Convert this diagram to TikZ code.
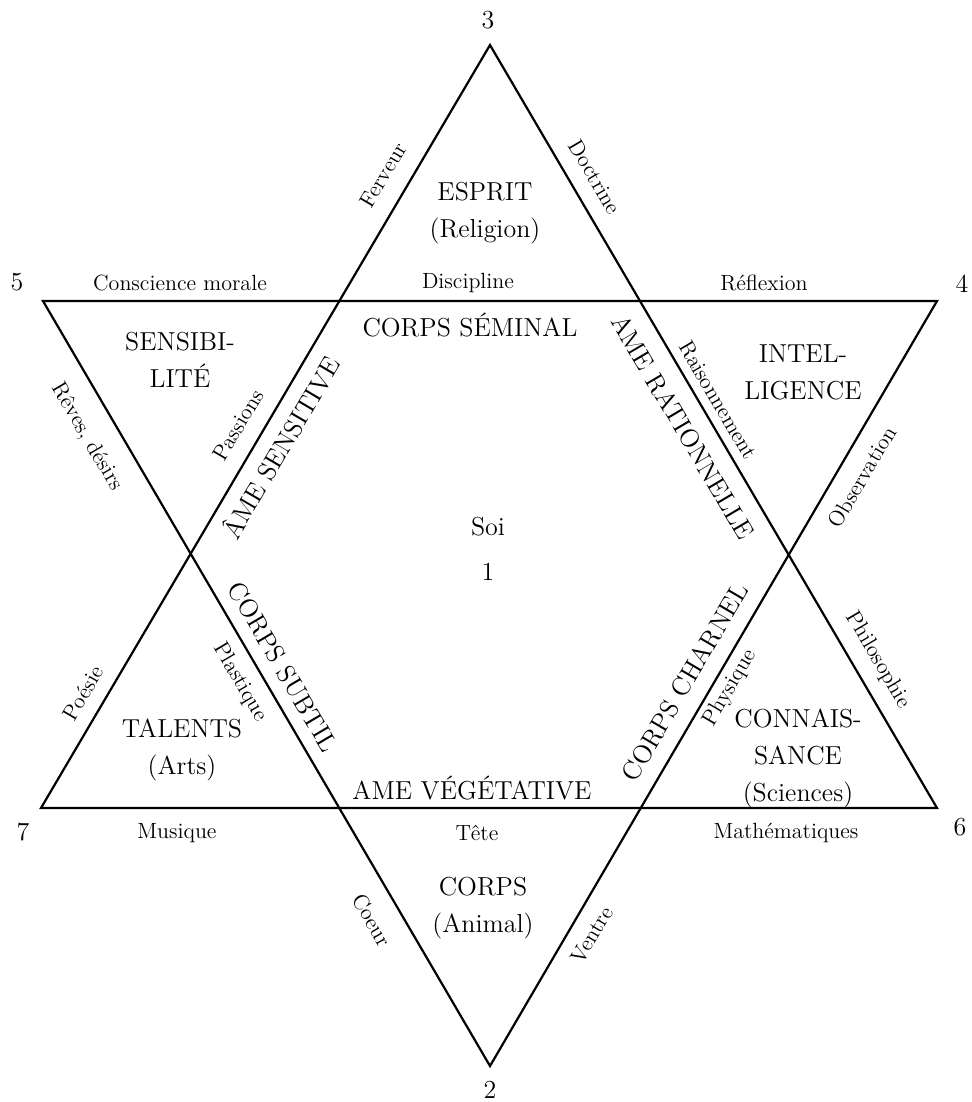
\documentclass[tikz,border=0pt]{standalone}
\usepackage{tikz}
\usetikzlibrary{positioning}
\tikzstyle{biglabel} = [font=\fontsize{13}{18.5}\selectfont, align=center, inner sep=0pt]
\tikzstyle{smalllabel} = [font=\fontsize{11}{13}\selectfont, inner sep=0pt]
\tikzstyle{vertexnum} = [font=\fontsize{13}{15}\selectfont, inner sep=0pt]
\tikzstyle{edge} = [line width=1.1pt, line join=miter]
\begin{document}
\begin{tikzpicture}[x=0.5pt, y=-0.5pt]
    \useasboundingbox (0,0) rectangle (972,1102);

    % Vertices
    \coordinate (v3) at (490,45);
    \coordinate (v7) at (41,808);
    \coordinate (v6) at (937,808);
    \coordinate (v5) at (43,301);
    \coordinate (v4) at (937,301);
    \coordinate (v2) at (490,1066);

    % Triangles
    \draw[edge] (v3) -- (v7) -- (v6) -- cycle;
    \draw[edge] (v5) -- (v4) -- (v2) -- cycle;

    % Numbers
    \node[vertexnum] (n3) at (488,20) {3};
    \node[vertexnum] (n2) at (490,1090) {2};
    \node[vertexnum] (n5) at (17,282) {5};
    \node[vertexnum] (n4) at (962,284) {4};
    \node[vertexnum] (n7) at (23,832) {7};
    \node[vertexnum] (n6) at (960,827) {6};

    % Centre
    \node[biglabel] (soi) at (488,527) {Soi};
    \node[vertexnum, below=13pt of soi] (n1) {1};

    % Points of the star
    \node[biglabel] (esprit) at (485,213) {ESPRIT\\(Religion)};
    \node[biglabel] (sensib) at (180,360) {SENSIBI-\\LIT\'E};
    \node[biglabel] (intel) at (803,372) {INTEL-\\LIGENCE};
    \node[biglabel] (talents) at (182,750) {TALENTS\\(Arts)};
    \node[biglabel] (connais) at (798,758) {CONNAIS-\\SANCE\\(Sciences)};
    \node[biglabel] (corps) at (483,908) {CORPS\\(Animal)};

    % Hexagon sides
    \node[biglabel] (seminal) at (470,325) {CORPS S\'EMINAL};
    \node[biglabel] (vegetative) at (472,788) {AME V\'EG\'ETATIVE};
    \node[biglabel, rotate=59.5] (sensitive) at (280,447) {\^AME SENSITIVE};
    \node[biglabel, rotate=-59.5] (rationnelle) at (683,427) {AME RATIONNELLE};
    \node[biglabel, rotate=-59.5] (subtil) at (283,667) {CORPS SUBTIL};
    \node[biglabel, rotate=59.5] (charnel) at (685,682) {CORPS CHARNEL};

    % Horizontal edge labels
    \node[smalllabel] (conscience) at (180,283) {Conscience morale};
    \node[smalllabel] (discipline) at (468,283) {Discipline};
    \node[smalllabel] (reflexion) at (764,283) {R\'eflexion};
    \node[smalllabel] (musique) at (177,833) {Musique};
    \node[smalllabel] (tete) at (477,833) {T\^ete};
    \node[smalllabel] (maths) at (786,833) {Math\'ematiques};

    % Slanted edge labels
    \node[smalllabel, rotate=59.5] (ferveur) at (383,175) {Ferveur};
    \node[smalllabel, rotate=-59.5] (doctrine) at (595,177) {Doctrine};
    \node[smalllabel, rotate=-59.5] (reves) at (87,437) {R\^eves, d\'esirs};
    \node[smalllabel, rotate=59.5] (passions) at (238,425) {Passions};
    \node[smalllabel, rotate=-59.5] (raison) at (718,400) {Raisonnement};
    \node[smalllabel, rotate=59.5] (observation) at (862,477) {Observation};
    \node[smalllabel, rotate=59.5] (poesie) at (83,693) {Po\'esie};
    \node[smalllabel, rotate=-59.5] (plastique) at (240,682) {Plastique};
    \node[smalllabel, rotate=59.5] (physique) at (730,688) {Physique};
    \node[smalllabel, rotate=-59.5] (philo) at (878,660) {Philosophie};
    \node[smalllabel, rotate=-59.5] (coeur) at (372,920) {Coeur};
    \node[smalllabel, rotate=59.5] (ventre) at (592,935) {Ventre};

\end{tikzpicture}
\end{document}
